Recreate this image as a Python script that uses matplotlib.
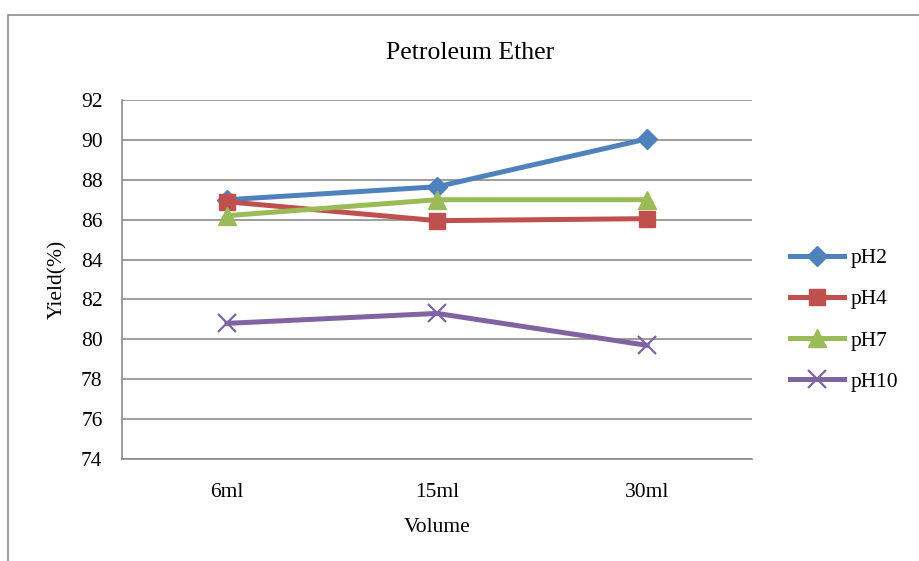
import matplotlib
matplotlib.use("Agg")
from matplotlib import pyplot as plt
from matplotlib.patches import Rectangle

plt.rcParams['font.family'] = ['Liberation Serif', 'DejaVu Serif']

# Data
volumes = ['6ml', '15ml', '30ml']
ph2 = [87.0, 87.65, 90.05]
ph4 = [86.9, 85.95, 86.05]
ph7 = [86.2, 87.0, 87.0]
ph10 = [80.8, 81.3, 79.7]
y_ticks = [74, 76, 78, 80, 82, 84, 86, 88, 90, 92]

W, H = 919, 561
fig = plt.figure(figsize=(W / 100, H / 100), dpi=100)

# outer chart frame (runs off the right and bottom edges)
fig.patches.append(Rectangle((8 / W, -0.1), 1.2, 1 - 15 / H + 0.1,
                             transform=fig.transFigure, fill=False,
                             edgecolor='#8c8c8c', linewidth=1.2))

ax = fig.add_axes([122 / W, 1 - 459 / H, (752 - 122) / W, (459 - 100) / H])

x = range(len(volumes))
ax.plot(x, ph2, color='#4F81BD', lw=3.6, marker='D', ms=10, label='pH2')
ax.plot(x, ph4, color='#C0504D', lw=3.6, marker='s', ms=12, label='pH4')
ax.plot(x, ph7, color='#9BBB59', lw=3.6, marker='^', ms=13, label='pH7')
ax.plot(x, ph10, color='#8064A2', lw=3.6, marker='x', ms=13, mew=1.6, label='pH10')

ax.set_xlim(-0.5, 2.5)
ax.set_ylim(74, 92)
ax.set_yticks(y_ticks)
ax.set_xticks(list(x))
ax.set_xticklabels(volumes)
ax.tick_params(length=0, labelsize=15.5)
ax.tick_params(axis='y', pad=14)
ax.tick_params(axis='x', pad=17)
ax.grid(axis='y', color='#8c8c8c', lw=1.2)
ax.set_axisbelow(True)
for s in ['top', 'right']:
    ax.spines[s].set_visible(False)
for s in ['left', 'bottom']:
    ax.spines[s].set_color('#8c8c8c')
    ax.spines[s].set_linewidth(1.2)

# title is centred on the whole chart area, not the plot area
fig.text(470 / W, 1 - 53 / H, 'Petroleum Ether', fontsize=18.5,
         ha='center', va='center')
ax.set_xlabel('Volume', fontsize=15.5, labelpad=12)
ax.set_ylabel('Yield(%)', fontsize=15.5, labelpad=10)

ax.legend(loc='center left', bbox_to_anchor=(790 / W, 1 - 320 / H),
          bbox_transform=fig.transFigure, frameon=False, borderpad=0,
          borderaxespad=0, fontsize=15.5, labelspacing=0.98,
          handlelength=2.5, handletextpad=0.3)

fig.savefig('out.png', dpi=100)
